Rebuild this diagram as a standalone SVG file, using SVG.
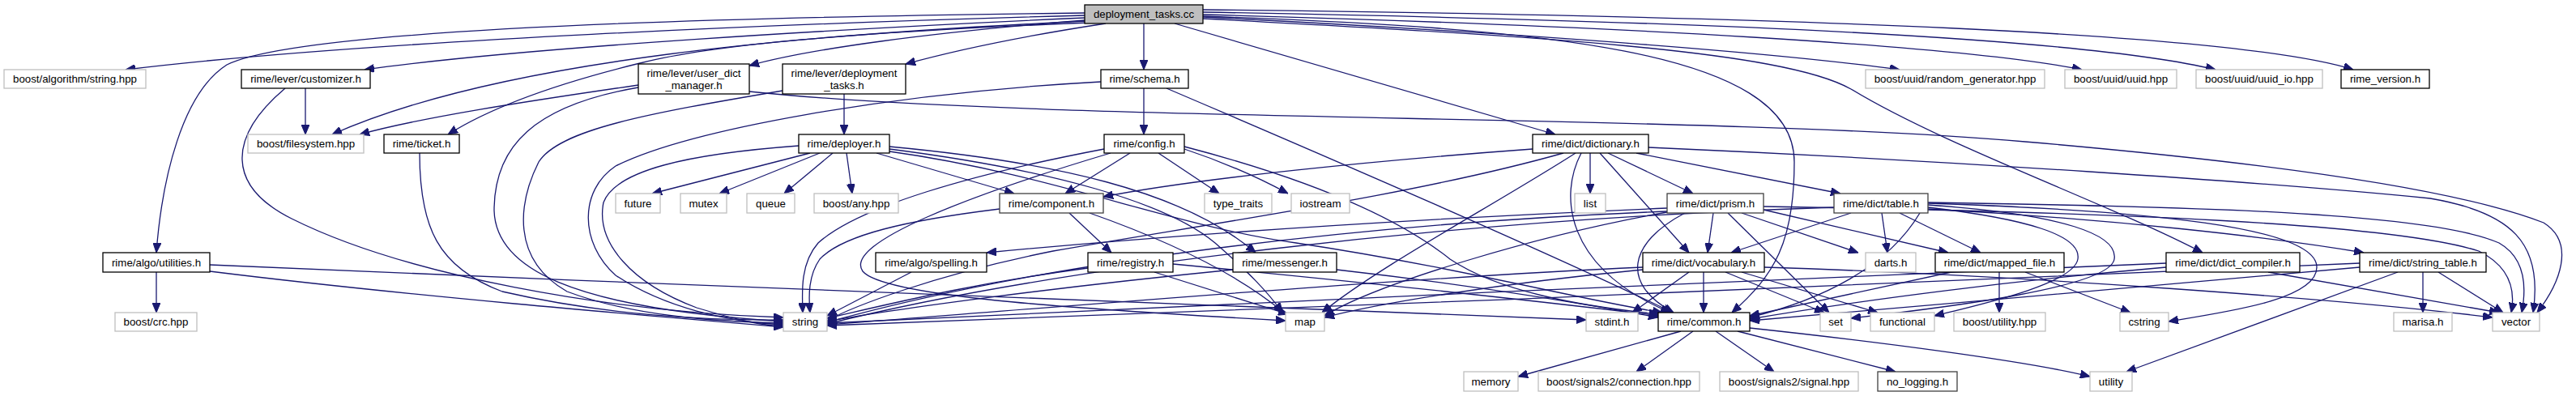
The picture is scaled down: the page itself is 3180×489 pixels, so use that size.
<svg xmlns="http://www.w3.org/2000/svg" width="3180" height="489" viewBox="0 0 3180 489">
<style>
rect{fill:#fff;stroke-width:1.3}
.d{stroke:#000}
.e{stroke:#bfbfbf}
.t{stroke:#404040}
.r{fill:#bfbfbf;stroke:#000}
text{font-family:"Liberation Sans",Arial,sans-serif;font-size:13.3px;text-anchor:middle;fill:#000}
#edges path{fill:none;stroke:#191970;stroke-width:1.3;marker-end:url(#a)}
</style>
<defs>
<marker id="a" viewBox="0 0 12 10" refX="12" refY="5" markerWidth="12" markerHeight="10" markerUnits="userSpaceOnUse" orient="auto">
<path d="M0,0 L12,5 L0,10 z" fill="#191970" stroke="#191970"/>
</marker>
</defs>
<rect x="0" y="0" width="3180" height="489" style="fill:#fff;stroke:none"/>
<g id="edges">
<path d="M1339,19 C1000,28 450,50 155,86"/>
<path d="M1339,22 C1050,35 650,58 450,86"/>
<path d="M1342,26 C1000,42 620,72 410,166"/>
<path d="M1345,28 C1050,40 880,55 790,78 C700,100 610,130 553,166"/>
<path d="M1339,16 C800,22 360,40 280,80 C225,115 200,220 193,312"/>
<path d="M1339,25 C1150,40 1000,60 925,81"/>
<path d="M1365,29 C1260,45 1180,62 1118,79"/>
<path d="M1412,29 L1412,86"/>
<path d="M1450,29 L1920,166"/>
<path d="M1485,21 C1900,42 2200,66 2345,86"/>
<path d="M1485,18 C2000,32 2420,56 2570,86"/>
<path d="M1485,15 C2100,26 2570,46 2735,86"/>
<path d="M1485,12 C2200,20 2760,40 2905,86"/>
<path d="M1485,20 C1900,35 2215,60 2215,200 C2215,300 2190,340 2138,386"/>
<path d="M1485,23 C1900,45 2200,62 2285,110 C2400,180 2600,250 2719,312"/>
<path d="M377,109 L377,166"/>
<path d="M352,109 C280,170 280,230 360,270 C500,340 750,385 967,392"/>
<path d="M518,189 C518,280 540,330 620,360 C750,390 880,396 967,395"/>
<path d="M788,105 C650,125 520,145 444,166"/>
<path d="M788,108 C660,130 610,180 610,260 C612,330 700,380 967,397"/>
<path d="M925,113 C1300,152 2100,140 2500,175 C2850,205 3050,240 3140,275 C3180,300 3160,350 3132,386"/>
<path d="M1042,116 L1042,166"/>
<path d="M966,112 C800,140 690,160 665,200 C640,250 630,320 700,360 C780,390 880,397 967,399"/>
<path d="M1412,109 L1412,166"/>
<path d="M1359,101 C1100,115 850,160 760,205 C715,235 715,300 760,340 C820,380 900,398 967,401"/>
<path d="M1440,109 C1700,220 1950,330 2065,386"/>
<path d="M1000,189 L805,239"/>
<path d="M1012,189 L888,239"/>
<path d="M1028,189 L968,239"/>
<path d="M1045,189 L1052,239"/>
<path d="M1082,189 L1252,239"/>
<path d="M986,180 C850,190 760,210 745,250 C735,300 780,350 860,380 C910,395 940,402 967,403"/>
<path d="M1098,181 C1300,200 1460,235 1550,312"/>
<path d="M1098,184 C1300,210 1440,250 1500,300 C1540,335 1565,360 1583,386"/>
<path d="M1098,187 C1300,215 1450,280 1600,300 C1800,330 1950,370 2052,386"/>
<path d="M1395,189 L1315,239"/>
<path d="M1430,189 L1505,239"/>
<path d="M1462,184 C1510,200 1555,220 1590,239"/>
<path d="M1363,184 C1200,215 1060,255 1010,300 C988,325 990,360 991,386"/>
<path d="M1371,189 C1200,240 1040,300 1065,335 C1090,365 1300,380 1587,396"/>
<path d="M1462,181 C1650,230 1740,280 1790,320 C1850,360 1950,378 2048,388"/>
<path d="M1892,184 C1700,198 1480,220 1362,243"/>
<path d="M1963,189 L1963,239"/>
<path d="M1985,189 L2090,239"/>
<path d="M2020,189 L2272,239"/>
<path d="M1975,189 L2085,312"/>
<path d="M2035,182 C2400,198 2800,225 3000,245 C3100,262 3140,300 3127,386"/>
<path d="M1945,189 C1850,250 1700,330 1632,386"/>
<path d="M1952,189 C1925,240 1930,330 2062,386"/>
<path d="M1930,189 C1750,240 1500,275 1300,310 C1150,340 1050,380 1021,396"/>
<path d="M1234,258 C1120,272 1040,290 1012,320 C998,340 998,365 1000,386"/>
<path d="M1320,263 L1372,312"/>
<path d="M1345,263 C1450,300 1530,340 1585,386"/>
<path d="M1343,331 C1200,350 1100,375 1021,393"/>
<path d="M1425,336 L1590,388"/>
<path d="M1448,326 C1700,350 1900,372 2050,390"/>
<path d="M1125,336 L1021,390"/>
<path d="M1522,333 C1300,355 1100,382 1021,397"/>
<path d="M1650,333 C1800,350 1950,374 2047,392"/>
<path d="M2058,257 C1800,268 1500,285 1218,312"/>
<path d="M2115,263 L2108,312"/>
<path d="M2080,263 C2010,300 2000,350 2066,386"/>
<path d="M2133,263 L2258,386"/>
<path d="M2150,263 L2294,312"/>
<path d="M2177,259 L2405,312"/>
<path d="M2058,261 C1700,275 1300,320 1021,398"/>
<path d="M2058,262 C1900,290 1700,350 1635,390"/>
<path d="M2177,255 C2600,262 2950,275 3060,310 C3100,330 3105,360 3100,386"/>
<path d="M2285,263 L2137,312"/>
<path d="M2323,263 L2330,312"/>
<path d="M2345,263 L2445,312"/>
<path d="M2380,258 C2600,270 2800,292 2918,312"/>
<path d="M2380,250 C2700,255 3000,262 3085,300 C3120,320 3118,360 3113,386"/>
<path d="M2264,256 C1800,270 1300,330 1021,400"/>
<path d="M2380,256 C2500,270 2570,290 2565,320 C2560,350 2450,375 2388,390"/>
<path d="M2380,253 C2550,265 2615,290 2610,320 C2605,355 2400,380 2285,393"/>
<path d="M2380,251 C2650,260 2860,280 2860,330 C2860,370 2750,385 2677,397"/>
<path d="M2370,263 C2330,330 2250,370 2160,392"/>
<path d="M2103,336 L2103,386"/>
<path d="M2085,336 L2015,386"/>
<path d="M2130,336 L2252,386"/>
<path d="M2150,336 L2318,386"/>
<path d="M2028,330 C1700,345 1300,380 1021,401"/>
<path d="M2028,333 C1850,350 1700,375 1635,392"/>
<path d="M2178,330 C2500,340 2900,370 3077,392"/>
<path d="M2468,336 L2468,386"/>
<path d="M2500,336 L2630,386"/>
<path d="M2409,336 L2160,390"/>
<path d="M2800,336 L3085,386"/>
<path d="M2674,325 C2200,345 1500,375 1021,399"/>
<path d="M2674,330 C2500,345 2300,370 2160,394"/>
<path d="M2991,336 L2991,386"/>
<path d="M3010,336 L3090,386"/>
<path d="M2960,336 L2625,459"/>
<path d="M2913,325 C2400,350 1600,380 1021,402"/>
<path d="M2913,330 C2700,350 2400,375 2160,396"/>
<path d="M193,336 L193,386"/>
<path d="M259,335 C500,365 800,390 967,404"/>
<path d="M259,327 C900,355 1700,385 1958,395"/>
<path d="M2075,409 L1874,465"/>
<path d="M2090,409 L2020,459"/>
<path d="M2118,409 L2190,459"/>
<path d="M2145,409 L2340,459"/>
<path d="M2160,405 C2300,420 2500,445 2580,465"/>
</g>
<g id="n0"><rect class="r" x="1339" y="6" width="146" height="23"/><text x="1412" y="22">deployment_tasks.cc</text></g>
<g id="n1"><rect class="e" x="5" y="86" width="175" height="23"/><text x="92.5" y="102">boost/algorithm/string.hpp</text></g>
<g id="n2"><rect class="d" x="298" y="86" width="159" height="23"/><text x="377.5" y="102">rime/lever/customizer.h</text></g>
<g id="n3"><rect class="d" x="788" y="79" width="137" height="37"/><text x="856.5" y="95">rime/lever/user_dict</text><text x="856.5" y="109.5">_manager.h</text></g>
<g id="n4"><rect class="d" x="966" y="79" width="152" height="37"/><text x="1042" y="95">rime/lever/deployment</text><text x="1042" y="109.5">_tasks.h</text></g>
<g id="n5"><rect class="d" x="1359" y="86" width="108" height="23"/><text x="1413" y="102">rime/schema.h</text></g>
<g id="n6"><rect class="e" x="2303" y="86" width="221" height="23"/><text x="2413.5" y="102">boost/uuid/random_generator.hpp</text></g>
<g id="n7"><rect class="e" x="2549" y="86" width="138" height="23"/><text x="2618" y="102">boost/uuid/uuid.hpp</text></g>
<g id="n8"><rect class="e" x="2711" y="86" width="156" height="23"/><text x="2789" y="102">boost/uuid/uuid_io.hpp</text></g>
<g id="n9"><rect class="d" x="2890" y="86" width="109" height="23"/><text x="2944.5" y="102">rime_version.h</text></g>
<g id="n10"><rect class="e" x="306" y="166" width="143" height="23"/><text x="377.5" y="182">boost/filesystem.hpp</text></g>
<g id="n11"><rect class="d" x="474" y="166" width="93" height="23"/><text x="520.5" y="182">rime/ticket.h</text></g>
<g id="n12"><rect class="d" x="986" y="166" width="112" height="23"/><text x="1042" y="182">rime/deployer.h</text></g>
<g id="n13"><rect class="d" x="1363" y="166" width="99" height="23"/><text x="1412.5" y="182">rime/config.h</text></g>
<g id="n14"><rect class="d" x="1892" y="166" width="143" height="23"/><text x="1963.5" y="182">rime/dict/dictionary.h</text></g>
<g id="n15"><rect class="e" x="760" y="239" width="55" height="24"/><text x="787.5" y="255.5">future</text></g>
<g id="n16"><rect class="e" x="840" y="239" width="57" height="24"/><text x="868.5" y="255.5">mutex</text></g>
<g id="n17"><rect class="e" x="922" y="239" width="59" height="24"/><text x="951.5" y="255.5">queue</text></g>
<g id="n18"><rect class="e" x="1005" y="239" width="104" height="24"/><text x="1057" y="255.5">boost/any.hpp</text></g>
<g id="n19"><rect class="t" x="1234" y="239" width="128" height="24"/><text x="1298" y="255.5">rime/component.h</text></g>
<g id="n20"><rect class="e" x="1487" y="239" width="83" height="24"/><text x="1528.5" y="255.5">type_traits</text></g>
<g id="n21"><rect class="e" x="1594" y="239" width="72" height="24"/><text x="1630" y="255.5">iostream</text></g>
<g id="n22"><rect class="e" x="1944" y="239" width="38" height="24"/><text x="1963" y="255.5">list</text></g>
<g id="n23"><rect class="t" x="2058" y="239" width="119" height="24"/><text x="2117.5" y="255.5">rime/dict/prism.h</text></g>
<g id="n24"><rect class="t" x="2264" y="239" width="116" height="24"/><text x="2322" y="255.5">rime/dict/table.h</text></g>
<g id="n25"><rect class="d" x="127" y="312" width="132" height="24"/><text x="193" y="328.5">rime/algo/utilities.h</text></g>
<g id="n26"><rect class="d" x="1081" y="312" width="137" height="24"/><text x="1149.5" y="328.5">rime/algo/spelling.h</text></g>
<g id="n27"><rect class="d" x="1343" y="312" width="105" height="24"/><text x="1395.5" y="328.5">rime/registry.h</text></g>
<g id="n28"><rect class="d" x="1522" y="312" width="128" height="24"/><text x="1586" y="328.5">rime/messenger.h</text></g>
<g id="n29"><rect class="d" x="2028" y="312" width="150" height="24"/><text x="2103" y="328.5">rime/dict/vocabulary.h</text></g>
<g id="n30"><rect class="e" x="2303" y="312" width="62" height="24"/><text x="2334" y="328.5">darts.h</text></g>
<g id="n31"><rect class="d" x="2389" y="312" width="159" height="24"/><text x="2468.5" y="328.5">rime/dict/mapped_file.h</text></g>
<g id="n32"><rect class="d" x="2674" y="312" width="165" height="24"/><text x="2756.5" y="328.5">rime/dict/dict_compiler.h</text></g>
<g id="n33"><rect class="d" x="2913" y="312" width="156" height="24"/><text x="2991" y="328.5">rime/dict/string_table.h</text></g>
<g id="n34"><rect class="e" x="142" y="386" width="101" height="23"/><text x="192.5" y="402">boost/crc.hpp</text></g>
<g id="n35"><rect class="e" x="967" y="386" width="54" height="23"/><text x="994" y="402">string</text></g>
<g id="n36"><rect class="e" x="1587" y="386" width="48" height="23"/><text x="1611" y="402">map</text></g>
<g id="n37"><rect class="e" x="1958" y="386" width="64" height="23"/><text x="1990" y="402">stdint.h</text></g>
<g id="n38"><rect class="d" x="2047" y="386" width="113" height="23"/><text x="2103.5" y="402">rime/common.h</text></g>
<g id="n39"><rect class="e" x="2247" y="386" width="38" height="23"/><text x="2266" y="402">set</text></g>
<g id="n40"><rect class="e" x="2309" y="386" width="79" height="23"/><text x="2348.5" y="402">functional</text></g>
<g id="n41"><rect class="e" x="2412" y="386" width="113" height="23"/><text x="2468.5" y="402">boost/utility.hpp</text></g>
<g id="n42"><rect class="e" x="2617" y="386" width="60" height="23"/><text x="2647" y="402">cstring</text></g>
<g id="n43"><rect class="e" x="2955" y="386" width="72" height="23"/><text x="2991" y="402">marisa.h</text></g>
<g id="n44"><rect class="e" x="3077" y="386" width="58" height="23"/><text x="3106" y="402">vector</text></g>
<g id="n45"><rect class="e" x="1807" y="459" width="67" height="24"/><text x="1840.5" y="475.5">memory</text></g>
<g id="n46"><rect class="e" x="1899" y="459" width="199" height="24"/><text x="1998.5" y="475.5">boost/signals2/connection.hpp</text></g>
<g id="n47"><rect class="e" x="2123" y="459" width="171" height="24"/><text x="2208.5" y="475.5">boost/signals2/signal.hpp</text></g>
<g id="n48"><rect class="t" x="2318" y="459" width="98" height="24"/><text x="2367" y="475.5">no_logging.h</text></g>
<g id="n49"><rect class="e" x="2580" y="459" width="52" height="24"/><text x="2606" y="475.5">utility</text></g>
</svg>
